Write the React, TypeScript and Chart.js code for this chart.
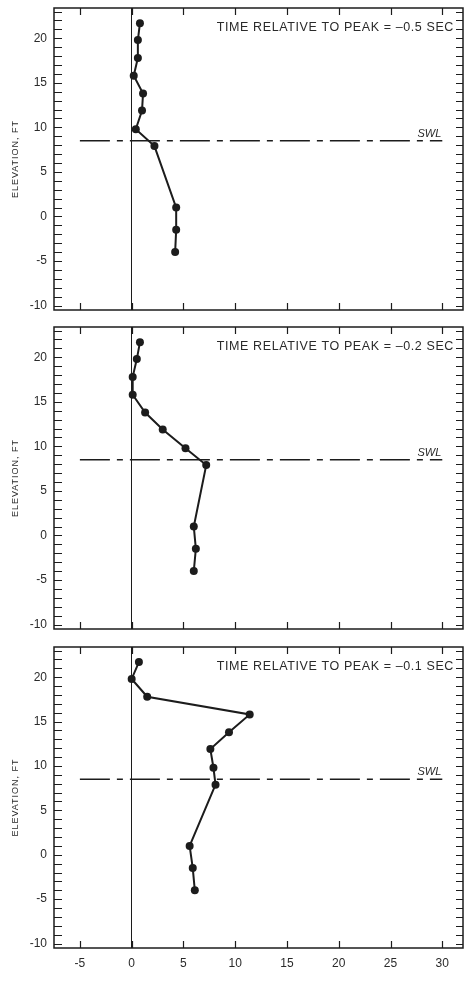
import { useEffect, useRef } from "react";
import { Chart, registerables } from "chart.js";

Chart.register(...registerables);

// ---- data ----
const ELEVATION_FT = [21.7, 19.8, 17.8, 15.8, 13.8, 11.9, 9.8, 7.9, 1.0, -1.5, -4.0];
const PRESSURE_T05 = [0.8, 0.6, 0.6, 0.2, 1.1, 1.0, 0.4, 2.2, 4.3, 4.3, 4.2];
const PRESSURE_T02 = [0.8, 0.5, 0.1, 0.1, 1.3, 3.0, 5.2, 7.2, 6.0, 6.2, 6.0];
const PRESSURE_T01 = [0.7, 0.0, 1.5, 11.4, 9.4, 7.6, 7.9, 8.1, 5.6, 5.9, 6.1];
const PANEL_TITLES = [
  "TIME RELATIVE TO PEAK = \u20130.5 SEC",
  "TIME RELATIVE TO PEAK = \u20130.2 SEC",
  "TIME RELATIVE TO PEAK = \u20130.1 SEC",
];
const SWL_ELEVATION = 8.5;
const SWL_X_RANGE = [-5, 30];
const SWL_LABEL = "SWL";
const X_TICKS = [-5, 0, 5, 10, 15, 20, 25, 30];
const Y_TICKS = [-10, -5, 0, 5, 10, 15, 20];
const Y_MINOR_TICKS = [
  -10, -9, -8, -7, -6, -5, -4, -3, -2, -1, 0, 1, 2, 3, 4, 5, 6, 7, 8, 9, 10, 11,
  12, 13, 14, 15, 16, 17, 18, 19, 20, 21, 22, 23,
];
const X_TITLE = "PRESSURE, PSI";
const Y_TITLE = "ELEVATION, FT";
const X_MIN = -7.5;
const X_MAX = 32;
const Y_MIN = -10.5;
const Y_MAX = 23.4;

// ---- styles ----
const INK = "#1c1c1c";
const TEXT = "#2a2a2a";
const FONT = "'Liberation Sans', Arial, Helvetica, sans-serif";

const framePlugin = {
  id: "frame",
  afterDraw(chart: any, _args: any, opts: any) {
    const { ctx, chartArea: a, scales } = chart;
    const xs = scales.x;
    const ys = scales.y;
    ctx.save();
    ctx.strokeStyle = INK;
    ctx.lineWidth = 1.5;
    ctx.strokeRect(a.left, a.top, a.right - a.left, a.bottom - a.top);
    ctx.lineWidth = 1.2;
    ctx.beginPath();
    for (const v of X_TICKS) {
      const px = Math.round(xs.getPixelForValue(v)) + 0.5;
      ctx.moveTo(px, a.bottom);
      ctx.lineTo(px, a.bottom - 7);
      ctx.moveTo(px, a.top);
      ctx.lineTo(px, a.top + 7);
    }
    for (const v of Y_MINOR_TICKS) {
      const py = Math.round(ys.getPixelForValue(v)) + 0.5;
      ctx.moveTo(a.left, py);
      ctx.lineTo(a.left + 8, py);
      ctx.moveTo(a.right, py);
      ctx.lineTo(a.right - 7, py);
    }
    ctx.stroke();

    // panel title
    ctx.fillStyle = TEXT;
    ctx.font = `12.5px ${FONT}`;
    (ctx as any).letterSpacing = "0.6px";
    ctx.textAlign = "right";
    ctx.textBaseline = "alphabetic";
    ctx.fillText(opts.title, a.right - 9, a.top + 23);

    // SWL label
    (ctx as any).letterSpacing = "0px";
    ctx.font = `italic 11px ${FONT}`;
    ctx.textAlign = "right";
    ctx.fillText(
      SWL_LABEL,
      xs.getPixelForValue(SWL_X_RANGE[1]) - 1,
      ys.getPixelForValue(SWL_ELEVATION) - 4
    );

    // y title
    ctx.save();
    ctx.font = `9px ${FONT}`;
    (ctx as any).letterSpacing = "1px";
    ctx.textAlign = "center";
    ctx.textBaseline = "middle";
    ctx.translate(15.5, (a.top + a.bottom) / 2);
    ctx.rotate(-Math.PI / 2);
    ctx.fillText(Y_TITLE, 0, 0);
    ctx.restore();

    // x title
    if (opts.showXTitle) {
      ctx.font = `11px ${FONT}`;
      (ctx as any).letterSpacing = "0.2px";
      ctx.textAlign = "center";
      ctx.textBaseline = "middle";
      ctx.fillText(X_TITLE, (a.left + a.right) / 2, 978);
    }
    ctx.restore();
  },
};

type PanelProps = {
  top: number;
  height: number;
  padTop: number;
  xAxisHeight: number;
  pressures: number[];
  title: string;
  showX: boolean;
};

function Panel({ top, height, padTop, xAxisHeight, pressures, title, showX }: PanelProps) {
  const ref = useRef<HTMLCanvasElement | null>(null);
  useEffect(() => {
    if (!ref.current) return;
    const profile = pressures.map((p, i) => ({ x: p, y: ELEVATION_FT[i] }));
    const swl = SWL_X_RANGE.map((x) => ({ x, y: SWL_ELEVATION }));
    const chart = new Chart(ref.current, {
      type: "scatter",
      data: {
        datasets: [
          {
            data: swl,
            showLine: true,
            borderColor: INK,
            borderWidth: 1.5,
            borderDash: [30, 7, 6, 7],
            pointRadius: 0,
          },
          {
            data: profile,
            showLine: true,
            borderColor: INK,
            backgroundColor: INK,
            borderWidth: 2,
            pointRadius: 4,
            pointBorderWidth: 0,
            pointBackgroundColor: INK,
          },
        ],
      },
      options: {
        responsive: false,
        maintainAspectRatio: false,
        animation: false,
        layout: { padding: { top: padTop, right: 4, bottom: 0, left: 0 } },
        plugins: {
          legend: { display: false },
          tooltip: { enabled: false },
          frame: { title, showXTitle: showX },
        } as any,
        scales: {
          x: {
            type: "linear",
            min: X_MIN,
            max: X_MAX,
            afterBuildTicks: (s: any) => {
              s.ticks = X_TICKS.map((v) => ({ value: v }));
            },
            afterFit: (s: any) => {
              s.height = xAxisHeight;
              s.paddingLeft = 0;
              s.paddingRight = 0;
            },
            grid: {
              color: (c: any) => (c.tick && c.tick.value === 0 ? INK : "rgba(0,0,0,0)"),
              lineWidth: 1,
              drawTicks: false,
            },
            border: { display: false },
            ticks: {
              display: showX,
              color: TEXT,
              font: { family: FONT, size: 12 },
              padding: 8,
              maxRotation: 0,
              autoSkip: false,
            },
          },
          y: {
            type: "linear",
            min: Y_MIN,
            max: Y_MAX,
            afterBuildTicks: (s: any) => {
              s.ticks = Y_TICKS.map((v) => ({ value: v }));
            },
            afterFit: (s: any) => {
              s.width = 54;
              s.paddingTop = 0;
              s.paddingBottom = 0;
            },
            grid: { display: false, drawTicks: false },
            border: { display: false },
            ticks: {
              color: TEXT,
              font: { family: FONT, size: 12 },
              padding: 7,
              autoSkip: false,
            },
          },
        },
      },
      plugins: [framePlugin],
    });
    return () => chart.destroy();
  }, []);
  return (
    <canvas
      ref={ref}
      width={467}
      height={height}
      style={{ position: "absolute", left: 0, top, width: 467, height, display: "block" }}
    />
  );
}

export default function App() {
  return (
    <div style={{ position: "absolute", left: 0, top: 0, width: 467, height: 986, background: "#fff" }}>
      <Panel top={0} height={320} padTop={8} xAxisHeight={10} pressures={PRESSURE_T05} title={PANEL_TITLES[0]} showX={false} />
      <Panel top={320} height={320} padTop={7} xAxisHeight={11} pressures={PRESSURE_T02} title={PANEL_TITLES[1]} showX={false} />
      <Panel top={640} height={346} padTop={7} xAxisHeight={38} pressures={PRESSURE_T01} title={PANEL_TITLES[2]} showX={true} />
    </div>
  );
}
